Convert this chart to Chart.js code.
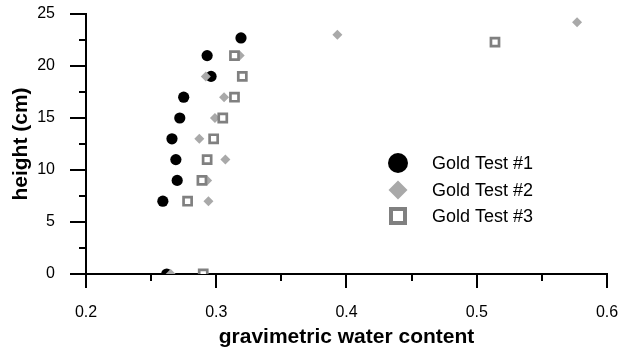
<!DOCTYPE html>
<html>
<head>
<meta charset="utf-8">
<script src="https://cdn.jsdelivr.net/npm/chart.js@4"></script>
<style>
  html, body { margin: 0; padding: 0; background: #fff; }
  #wrap { width: 620px; height: 351px; }
</style>
</head>
<body>
<div id="wrap"><canvas id="c" width="620" height="351"></canvas></div>
<script>
// Gravimetric water content profiles for three gold tests
const seriesNames = ['Gold Test #1', 'Gold Test #2', 'Gold Test #3'];

const gold1Water  = [0.262, 0.259, 0.270, 0.269, 0.266, 0.272, 0.275, 0.296, 0.293, 0.319];
const gold1Height = [0, 7, 9, 11, 13, 15, 17, 19, 21, 22.7];

const gold2Water  = [0.265, 0.294, 0.293, 0.307, 0.287, 0.299, 0.306, 0.292, 0.318, 0.393, 0.577];
const gold2Height = [0, 7, 9, 11, 13, 15, 17, 19, 21, 23, 24.2];

const gold3Water  = [0.290, 0.278, 0.289, 0.293, 0.298, 0.305, 0.314, 0.320, 0.314, 0.514];
const gold3Height = [0, 7, 9, 11, 13, 15, 17, 19, 21, 22.3];

const xTicks = [0.2, 0.3, 0.4, 0.5, 0.6];
const yTicks = [0, 5, 10, 15, 20, 25];

const FONT = '"Liberation Sans", Arial, Helvetica, sans-serif';

function pairs(xs, ys) {
  return xs.map((x, i) => ({ x: x, y: ys[i] }));
}

function noEdgePadding(s) {
  s.paddingTop = 0;
  s.paddingBottom = 0;
  s.paddingLeft = 0;
  s.paddingRight = 0;
}

// Major / minor tick marks drawn outside the plot, plus the inset legend
const axisDecor = {
  id: 'axisDecor',
  afterDraw(chart) {
    const ctx = chart.ctx;
    const xs = chart.scales.x, ys = chart.scales.y;
    const area = chart.chartArea;
    ctx.save();
    ctx.strokeStyle = '#000';
    ctx.lineWidth = 2;
    ctx.lineCap = 'butt';
    const xStep = (xTicks[1] - xTicks[0]) / 2;
    for (let i = 0; i <= (xTicks.length - 1) * 2; i++) {
      const v = xTicks[0] + i * xStep;
      const px = Math.round(xs.getPixelForValue(v));
      const len = i % 2 === 0 ? 14 : 7;
      ctx.beginPath();
      ctx.moveTo(px, area.bottom - 1);
      ctx.lineTo(px, area.bottom + len);
      ctx.stroke();
    }
    const yStep = (yTicks[1] - yTicks[0]) / 2;
    for (let i = 0; i <= (yTicks.length - 1) * 2; i++) {
      const v = yTicks[0] + i * yStep;
      const py = Math.round(ys.getPixelForValue(v));
      const len = i % 2 === 0 ? 16 : 7;
      ctx.beginPath();
      ctx.moveTo(area.left + 1, py);
      ctx.lineTo(area.left - len, py);
      ctx.stroke();
    }

    // legend
    const legendX = 398, textX = 432;
    const rows = [163, 190, 216];
    const sizes = [10, 9.5, 9.9];
    const widths = [0, 0, 4];
    chart.data.datasets.forEach((ds, i) => {
      ctx.fillStyle = ds.backgroundColor;
      ctx.strokeStyle = ds.borderColor;
      ctx.lineWidth = widths[i];
      Chart.helpers.drawPoint(ctx, {
        pointStyle: ds.pointStyle,
        radius: sizes[i],
        rotation: 0,
        borderWidth: widths[i]
      }, legendX, rows[i]);
      ctx.fillStyle = '#000';
      ctx.font = '18px ' + FONT;
      ctx.textAlign = 'left';
      ctx.textBaseline = 'middle';
      ctx.fillText(ds.label, textX, rows[i] + 1);
    });
    ctx.restore();
  }
};

new Chart(document.getElementById('c'), {
  type: 'scatter',
  data: {
    datasets: [
      {
        label: seriesNames[0],
        data: pairs(gold1Water, gold1Height),
        pointStyle: 'circle',
        pointRadius: 5.6,
        backgroundColor: '#000000',
        borderColor: '#000000',
        borderWidth: 0,
        order: 3
      },
      {
        label: seriesNames[1],
        data: pairs(gold2Water, gold2Height),
        pointStyle: 'rectRot',
        pointRadius: 5,
        backgroundColor: '#a9a9a9',
        borderColor: '#a9a9a9',
        borderWidth: 0,
        order: 2
      },
      {
        label: seriesNames[2],
        data: pairs(gold3Water, gold3Height),
        pointStyle: 'rect',
        pointRadius: 5.7,
        backgroundColor: '#ffffff',
        borderColor: '#808080',
        borderWidth: 2.7,
        order: 1
      }
    ]
  },
  options: {
    responsive: false,
    devicePixelRatio: 1,
    animation: false,
    layout: { padding: { top: 14, right: 13, left: 0, bottom: 0 } },
    plugins: {
      legend: { display: false },
      tooltip: { enabled: false }
    },
    scales: {
      x: {
        type: 'linear',
        min: xTicks[0],
        max: xTicks[xTicks.length - 1],
        afterFit(s) { s.height = 77; noEdgePadding(s); },
        afterBuildTicks(s) { s.ticks = xTicks.map(v => ({ value: v })); },
        grid: { display: false, drawTicks: false },
        border: { display: true, color: '#000', width: 2 },
        ticks: {
          color: '#000',
          font: { family: FONT, size: 16 },
          padding: 29,
          maxRotation: 0,
          callback: v => v.toFixed(1)
        },
        title: {
          display: true,
          text: 'gravimetric water content',
          color: '#000',
          font: { family: FONT, size: 21, weight: 'bold' },
          padding: { top: 0, bottom: 1 }
        }
      },
      y: {
        type: 'linear',
        min: yTicks[0],
        max: yTicks[yTicks.length - 1],
        afterFit(s) { s.width = 86; noEdgePadding(s); },
        afterBuildTicks(s) { s.ticks = yTicks.map(v => ({ value: v })); },
        grid: { display: false, drawTicks: false },
        border: { display: true, color: '#000', width: 2 },
        ticks: {
          color: '#000',
          font: { family: FONT, size: 16 },
          padding: 31
        },
        title: {
          display: true,
          text: 'height (cm)',
          color: '#000',
          font: { family: FONT, size: 21, weight: 'bold' },
          padding: { top: 9, bottom: 0 }
        }
      }
    }
  },
  plugins: [axisDecor]
});
</script>
</body>
</html>
